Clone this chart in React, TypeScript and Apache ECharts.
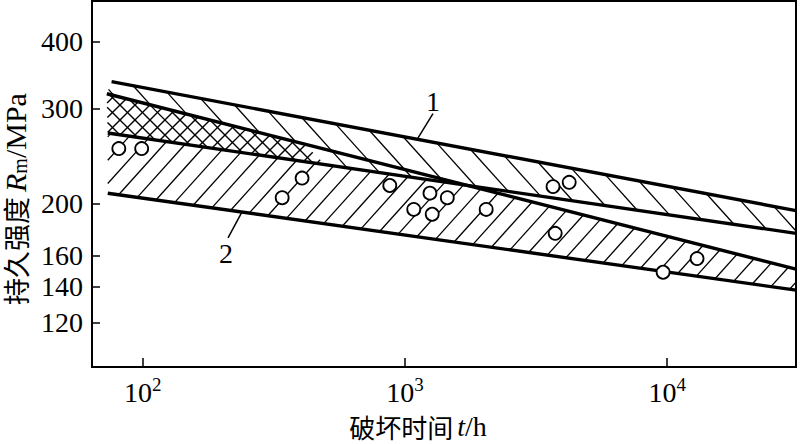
import React, { useEffect, useRef } from "react";
import * as echarts from "echarts";

// ---- axes ----
const xRange = [64, 31000];
const yRange = [99.3, 476];
const xTickValues = [100, 1000, 10000];
const yTickValues = [120, 140, 160, 200, 300, 400];

// ---- band boundaries [time h, stress MPa] ----
const band1Upper = [[76, 337], [31000, 194]];
const band1Lower = [[73.5, 270.5], [31000, 176]];
const band2Upper = [[72.9, 320], [31000, 151]];
const band2Lower = [[73.5, 209], [31000, 138]];
// time where the cross-hatched part ends, on band2Upper / band1Lower
const crossHatchEnd = [415, 495];

// ---- test points ----
const testTime = [81, 99, 340, 405, 875, 1080, 1245, 1270, 1450, 2040, 3670, 4230, 3740, 9650, 13000];
const testStress = [253, 253, 205, 223, 216, 195, 209, 191, 205, 195, 215, 219, 176, 149, 158];

// ---- curve labels ----
const curveLabels = ["1", "2"];
const curveLabelTime = [1111, 239];
const curveLabelStress = [263, 193];

const SERIF = "Liberation Serif";
const CJK = "Noto Sans CJK SC";

function hatchLines(poly: number[][], angle: number, dir: number, spacingH: number, lw: number) {
  const th = (angle * Math.PI) / 180;
  const d = [Math.cos(th), dir * Math.sin(th)];
  const n = [-d[1], d[0]];
  const sp = spacingH * Math.abs(n[0]);
  let cmin = Infinity, cmax = -Infinity;
  for (const p of poly) {
    const c = n[0] * p[0] + n[1] * p[1];
    cmin = Math.min(cmin, c);
    cmax = Math.max(cmax, c);
  }
  const out: any[] = [];
  for (let c = Math.ceil(cmin / sp) * sp; c <= cmax; c += sp) {
    const hits: number[][] = [];
    for (let i = 0; i < poly.length; i++) {
      const p = poly[i], q = poly[(i + 1) % poly.length];
      const fp = n[0] * p[0] + n[1] * p[1] - c;
      const fq = n[0] * q[0] + n[1] * q[1] - c;
      if (fp > 0 !== fq > 0) {
        const t = fp / (fp - fq);
        const x = p[0] + (q[0] - p[0]) * t, y = p[1] + (q[1] - p[1]) * t;
        hits.push([d[0] * x + d[1] * y, x, y]);
      }
    }
    hits.sort((a, b) => a[0] - b[0]);
    for (let k = 0; k + 1 < hits.length; k += 2) {
      out.push({
        type: "line",
        silent: true,
        shape: { x1: hits[k][1], y1: hits[k][2], x2: hits[k + 1][1], y2: hits[k + 1][2] },
        style: { stroke: "#000", lineWidth: lw },
      });
    }
  }
  return out;
}

function onLine(p0: number[], p1: number[], x: number) {
  return [x, p0[1] + ((p1[1] - p0[1]) * (x - p0[0])) / (p1[0] - p0[0])];
}

function intersect(a0: number[], a1: number[], b0: number[], b1: number[]) {
  const ma = (a1[1] - a0[1]) / (a1[0] - a0[0]);
  const mb = (b1[1] - b0[1]) / (b1[0] - b0[0]);
  const x = (b0[1] - a0[1] + ma * a0[0] - mb * b0[0]) / (ma - mb);
  return [x, a0[1] + ma * (x - a0[0])];
}

export default function App() {
  const ref = useRef<HTMLDivElement>(null);
  useEffect(() => {
    if (!ref.current) return;
    const chart = echarts.init(ref.current, null, { renderer: "svg" });

    const lineSeries = (d: number[][]) => ({
      type: "line",
      data: d,
      showSymbol: false,
      symbol: "none",
      z: 3,
      lineStyle: { color: "#000", width: 3.4 },
      silent: true,
    });

    const option: any = {
      animation: false,
      backgroundColor: "#fff",
      grid: {
        left: 92,
        right: 16,
        top: 1,
        bottom: 77,
        show: true,
        borderColor: "#000",
        borderWidth: 2,
        outerBoundsMode: "none",
        containLabel: false,
      },
      xAxis: {
        type: "log",
        logBase: 10,
        min: xRange[0],
        max: xRange[1],
        axisLine: { show: true, lineStyle: { color: "#000", width: 2 } },
        axisTick: { show: true, inside: true, length: 9, customValues: xTickValues, lineStyle: { color: "#000", width: 1.5 } },
        minorTick: { show: false },
        splitLine: { show: false },
        axisLabel: {
          customValues: xTickValues,
          margin: 8,
          color: "#000",
          formatter: (v: number) => `{b|10}{s|${Math.round(Math.log10(v))}}`,
          rich: {
            b: { fontFamily: SERIF, fontSize: 28, lineHeight: 34, color: "#000" },
            s: { fontFamily: SERIF, fontSize: 19, lineHeight: 19, verticalAlign: "top", color: "#000" },
          },
        },
        name: "{c|破坏时间}{i|t}{r|/h}",
        nameLocation: "middle",
        nameGap: 45,
        nameTextStyle: {
          padding: [0, 52, 0, 0],
          rich: {
            c: { fontFamily: CJK, fontSize: 26, lineHeight: 28, color: "#000" },
            i: { fontFamily: SERIF, fontStyle: "italic", fontSize: 28, lineHeight: 28, color: "#000", padding: [0, 0, 0, 4] },
            r: { fontFamily: SERIF, fontSize: 28, lineHeight: 28, color: "#000" },
          },
        },
      },
      yAxis: {
        type: "log",
        logBase: 10,
        min: yRange[0],
        max: yRange[1],
        axisLine: { show: true, lineStyle: { color: "#000", width: 2 } },
        axisTick: { show: true, inside: true, length: 8, customValues: yTickValues, lineStyle: { color: "#000", width: 1.5 } },
        minorTick: { show: false },
        splitLine: { show: false },
        axisLabel: {
          customValues: yTickValues,
          margin: 9,
          color: "#000",
          fontFamily: SERIF,
          fontSize: 28,
        },
        name: "{c|持久强度}{i|R}{s|m}{r|/MPa}",
        nameLocation: "middle",
        nameRotate: 90,
        nameGap: 48,
        nameTextStyle: {
          padding: [0, 30, 0, 0],
          rich: {
            c: { fontFamily: CJK, fontSize: 27, lineHeight: 30, color: "#000" },
            i: { fontFamily: SERIF, fontStyle: "italic", fontSize: 30, lineHeight: 30, color: "#000", padding: [0, 0, 0, 5] },
            s: { fontFamily: SERIF, fontSize: 20, color: "#000", verticalAlign: "bottom", lineHeight: 20 },
            r: { fontFamily: SERIF, fontSize: 30, lineHeight: 30, color: "#000" },
          },
        },
      },
      series: [
        {
          type: "custom",
          coordinateSystem: "cartesian2d",
          data: [[1000, 200]],
          z: 1,
          silent: true,
          renderItem: (params: any, api: any) => {
            const A0 = api.coord(band1Upper[0]), A1 = api.coord(band1Upper[1]);
            const C0 = api.coord(band1Lower[0]), C1 = api.coord(band1Lower[1]);
            const B0 = api.coord(band2Upper[0]), B1 = api.coord(band2Upper[1]);
            const D0 = api.coord(band2Lower[0]), D1 = api.coord(band2Lower[1]);
            const xbE = api.coord([crossHatchEnd[0], 200])[0];
            const xcE = api.coord([crossHatchEnd[1], 200])[0];
            const Be = onLine(B0, B1, xbE);
            const Ce = onLine(C0, C1, xcE);
            const X = intersect(B0, B1, C0, C1);
            const regionCross = [B0, Be, Ce, C0];
            const regionUpper = [A0, A1, C1, Ce, Be, B0];
            const regionLower = [C0, X, B1, D1, D0];
            const children = [
              ...hatchLines(regionUpper, 48, 1, 28, 1.3),
              ...hatchLines(regionCross, 45, 1, 15, 1.4),
              ...hatchLines(regionCross, 45, -1, 15, 1.4),
              ...hatchLines(regionLower, 48, -1, 21, 1.3),
            ];
            return { type: "group", children };
          },
        },
        lineSeries(band1Upper),
        lineSeries(band1Lower),
        lineSeries(band2Upper),
        lineSeries(band2Lower),
        {
          type: "scatter",
          data: testTime.map((t, i) => [t, testStress[i]]),
          symbol: "circle",
          symbolSize: 13,
          z: 5,
          silent: true,
          itemStyle: { color: "#fff", borderColor: "#000", borderWidth: 1.8, opacity: 1 },
        },
        {
          type: "custom",
          coordinateSystem: "cartesian2d",
          data: curveLabels.map((_, i) => [curveLabelTime[i], curveLabelStress[i], i]),
          z: 6,
          silent: true,
          renderItem: (params: any, api: any) => {
            const i = api.value(2);
            const p = api.coord([api.value(0), api.value(1)]);
            const off = i === 0 ? { lx: 16, ly: -26, tx: 16, ty: -38 } : { lx: -14, ly: 26, tx: -16, ty: 42 };
            return {
              type: "group",
              children: [
                {
                  type: "line",
                  shape: { x1: p[0], y1: p[1], x2: p[0] + off.lx, y2: p[1] + off.ly },
                  style: { stroke: "#000", lineWidth: 1.5 },
                },
                {
                  type: "text",
                  x: p[0] + off.tx,
                  y: p[1] + off.ty,
                  style: {
                    text: curveLabels[i],
                    fontFamily: SERIF,
                    fontSize: 28,
                    fill: "#000",
                    align: "center",
                    verticalAlign: "middle",
                  },
                },
              ],
            };
          },
        },
      ],
    };
    chart.setOption(option);
    return () => chart.dispose();
  }, []);
  return <div ref={ref} style={{ position: "fixed", left: 0, top: 0, width: 812, height: 444 }} />;
}
